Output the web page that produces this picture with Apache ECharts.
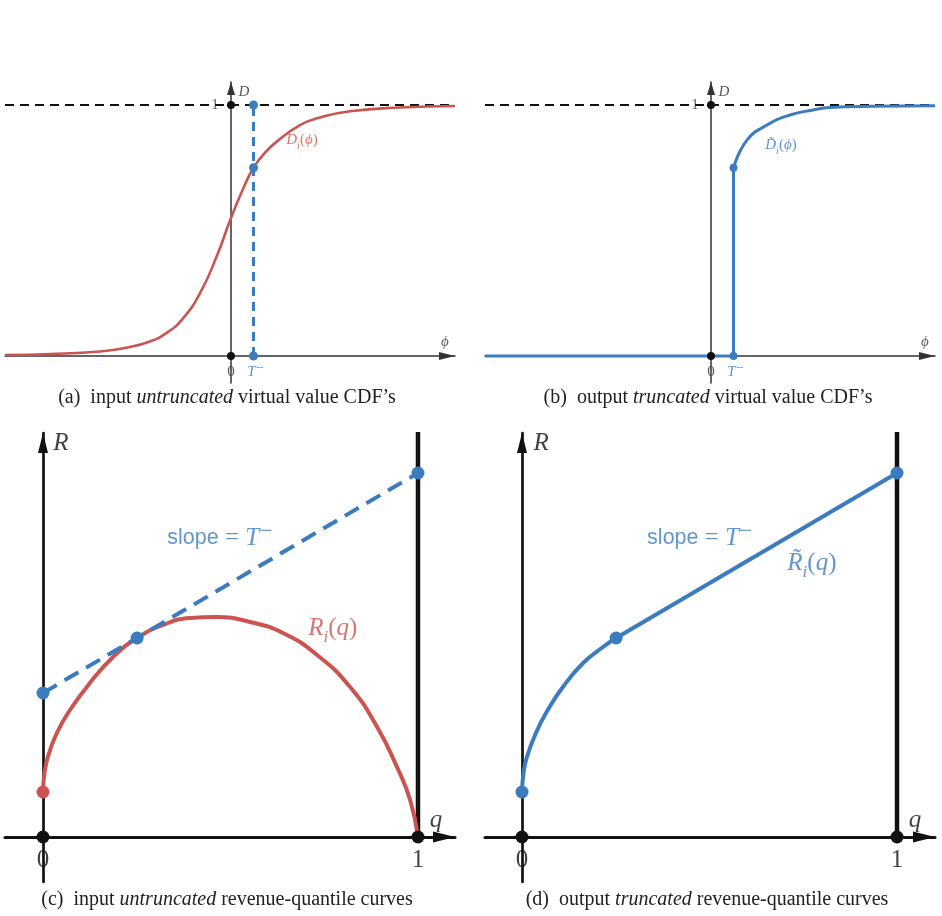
<!DOCTYPE html>
<html>
<head>
<meta charset="utf-8">
<script src="https://cdn.jsdelivr.net/npm/echarts@6/dist/echarts.min.js"></script>
<style>
  html, body { margin: 0; background: #fff; }
  #main { width: 942px; height: 916px; }
</style>
</head>
<body>
<div id="main"></div>
<script>
// (a) untruncated virtual value CDF D_i(phi)
const phiA = [-2.26, -1.8, -1.31, -1.06, -0.81, -0.64, -0.48, -0.31, -0.14, -0.01, 0.12, 0.225, 0.34, 0.46, 0.69, 0.89, 1.19, 1.69, 2.24]
const cdfA = [0.004, 0.008, 0.018, 0.032, 0.058, 0.093, 0.15, 0.25, 0.4, 0.54, 0.665, 0.75, 0.81, 0.855, 0.92, 0.95, 0.975, 0.99, 0.996]
// (b) truncated CDF, part above the jump at T-
const phiB = [0.225, 0.36, 0.56, 0.79, 1.02, 1.19, 1.6, 2.24]
const cdfB = [0.75, 0.86, 0.92, 0.96, 0.98, 0.99, 0.995, 0.997]
const T = 0.225
// (c) revenue-quantile curve R_i(q)
const qC = [0, 0.004, 0.013, 0.037, 0.072, 0.125, 0.187, 0.251, 0.32, 0.392, 0.464, 0.552, 0.64, 0.731, 0.819, 0.891, 0.944, 0.979, 1]
const revC = [0.45, 0.64, 0.8, 1.04, 1.27, 1.54, 1.8, 1.99, 2.12, 2.19, 2.2, 2.15, 2.04, 1.82, 1.5, 1.1, 0.7, 0.37, 0]
// line with slope T- : at q=0, tangency point, q=1
const lineQ = [0, 0.251, 1]
const lineRev = [1.44, 1.99, 3.64]
// (d) truncated curve, concave part up to the tangency point
const qD = [0, 0.004, 0.013, 0.037, 0.067, 0.109, 0.163, 0.216, 0.251]
const revD = [0.45, 0.64, 0.8, 1.04, 1.26, 1.5, 1.74, 1.9, 1.99]
// tick labels
const cdfTicks = ['0', '1']
const qTicks = ['0', '1']

const RED = '#cc5450'
const BLUE = '#3b7cbf'
const BLACK = '#111'
const SERIF = "'Liberation Serif', 'DejaVu Serif', serif"
const SANS = "'Liberation Sans', Arial, sans-serif"

const zip = (xs, ys) => xs.map((x, i) => [x, ys[i]])

function rich(size) {
  return {
    m: { fontFamily: SERIF, fontStyle: 'italic', fontSize: size, lineHeight: size * 1.45 },
    u: { fontFamily: SERIF, fontSize: size, lineHeight: size * 1.45 },
    s: { fontFamily: SERIF, fontStyle: 'italic', fontSize: size * 0.68, lineHeight: size * 0.7, verticalAlign: 'bottom' },
    p: { fontFamily: SERIF, fontSize: size * 0.95, lineHeight: size * 0.7, verticalAlign: 'top' },
    w: { fontFamily: SANS, fontSize: size * 0.86, lineHeight: size * 1.45 }
  }
}

function axis(i, min, max, arrow, width) {
  return {
    gridIndex: i, type: 'value', min: min, max: max,
    axisLine: {
      onZero: true, symbol: ['none', 'triangle'], symbolSize: arrow, symbolOffset: [0, -arrow[1] / 2],
      lineStyle: { color: i < 2 ? '#333' : BLACK, width: width }
    },
    axisTick: { show: false },
    splitLine: { show: false },
    axisLabel: { show: false }
  }
}

function line(i, data, color, width, extra) {
  return Object.assign({
    type: 'line', xAxisIndex: i, yAxisIndex: i, data: data, symbol: 'none',
    lineStyle: { color: color, width: width }, silent: true, animation: false, z: 3
  }, extra || {})
}

function dots(i, data, color, size) {
  return {
    type: 'scatter', xAxisIndex: i, yAxisIndex: i, data: data, symbolSize: size,
    itemStyle: { color: color, opacity: 1 }, z: 6, animation: false, silent: true
  }
}

function labels(i, items, size, color) {
  return {
    type: 'scatter', xAxisIndex: i, yAxisIndex: i, symbolSize: 0, z: 7, animation: false, silent: true,
    data: items.map(d => ({ value: d[0], label: { formatter: d[1], color: d[2] || color } })),
    label: { show: true, position: 'inside', align: 'center', verticalAlign: 'middle', fontFamily: SERIF, fontSize: size, rich: rich(size) }
  }
}

const dash1 = { color: BLACK, width: 2.2, type: [9, 6] }
const curve = { smooth: 0.5 }
const gridBase = { width: 450, outerBoundsMode: 'none', containLabel: false }

const chart = echarts.init(document.getElementById('main'))
chart.setOption({
  backgroundColor: '#fff',
  grid: [
    Object.assign({ left: 5, top: 82, height: 301 }, gridBase),
    Object.assign({ left: 485, top: 82, height: 301 }, gridBase),
    Object.assign({ left: 5, top: 433, height: 449 }, gridBase),
    Object.assign({ left: 485, top: 433, height: 449 }, gridBase)
  ],
  xAxis: [
    axis(0, -2.26, 2.24, [8, 16], 1.5),
    axis(1, -2.26, 2.24, [8, 16], 1.5),
    axis(2, -0.1013, 1.0987, [11, 22], 3),
    axis(3, -0.0987, 1.1013, [11, 22], 3)
  ],
  yAxis: [
    axis(0, -0.1076, 1.0916, [8, 13], 1.5),
    axis(1, -0.1076, 1.0916, [8, 13], 1.5),
    axis(2, -0.45, 4.04, [10, 20], 2.7),
    axis(3, -0.45, 4.04, [10, 20], 2.7)
  ],
  series: [
    // (a)
    line(0, [[-2.26, 1], [2.24, 1]], BLACK, 2.2, { lineStyle: dash1 }),
    line(0, zip(phiA, cdfA), RED, 2.6, curve),
    line(0, [[T, 0], [T, 1]], BLUE, 3, { lineStyle: { color: BLUE, width: 3, type: [9, 6] } }),
    dots(0, [[0, 1], [0, 0]], BLACK, 8),
    dots(0, [[T, 1], [T, cdfA[phiA.indexOf(T)]], [T, 0]], BLUE, 9),
    labels(0, [
      [[0.13, 1.052], '{m|D}', '#333'],
      [[2.14, 0.056], '{m|\u03d5}', '#333'],
      [[-0.16, 1], cdfTicks[1], '#333'],
      [[0, -0.064], cdfTicks[0], '#333'],
      [[T + 0.02, -0.064], '{m|T}{p|\u2212}', BLUE],
      [[0.71, 0.86], '{m|D}{s|i}{u|(}{m|\u03d5}{u|)}']
    ], 15, RED),
    // (b)
    line(1, [[-2.26, 1], [2.24, 1]], BLACK, 2.2, { lineStyle: dash1 }),
    line(1, [[-2.26, 0], [T, 0], [T, cdfB[0]]], BLUE, 3),
    line(1, zip(phiB, cdfB), BLUE, 3, curve),
    dots(1, [[0, 1], [0, 0]], BLACK, 8),
    dots(1, [[T, cdfB[0]], [T, 0]], BLUE, 8),
    labels(1, [
      [[0.13, 1.052], '{m|D}', '#333'],
      [[2.14, 0.056], '{m|\u03d5}', '#333'],
      [[-0.16, 1], cdfTicks[1], '#333'],
      [[0, -0.064], cdfTicks[0], '#333'],
      [[T + 0.02, -0.064], '{m|T}{p|\u2212}', BLUE],
      [[0.7, 0.84], '{m|D\u0303}{s|i}{u|(}{m|\u03d5}{u|)}']
    ], 15, BLUE),
    // (c)
    line(2, [[1, 0], [1, 4.05]], BLACK, 4.5, { clip: false }),
    line(2, zip(qC, revC), RED, 4, curve),
    line(2, [[lineQ[0], lineRev[0]], [lineQ[2], lineRev[2]]], BLUE, 4, { lineStyle: { color: BLUE, width: 4, type: [16, 9] } }),
    dots(2, [[0, 0], [1, 0]], BLACK, 13),
    dots(2, [[qC[0], revC[0]]], RED, 13),
    dots(2, zip(lineQ, lineRev), BLUE, 13),
    labels(2, [
      [[0.048, 3.94], '{m|R}', BLACK],
      [[1.048, 0.17], '{m|q}', BLACK],
      [[0, -0.23], qTicks[0], BLACK],
      [[1, -0.23], qTicks[1], BLACK],
      [[0.472, 2.99], '{w|slope} {u|=} {m|T}{p|\u2212}'],
      [[0.773, 2.09], '{m|R}{s|i}{u|(}{m|q}{u|)}', RED]
    ], 25, BLUE),
    // (d)
    line(3, [[1, 0], [1, 4.05]], BLACK, 4.5, { clip: false }),
    line(3, zip(qD, revD), BLUE, 4, curve),
    line(3, zip(lineQ.slice(1), lineRev.slice(1)), BLUE, 4),
    dots(3, [[0, 0], [1, 0]], BLACK, 13),
    dots(3, [[qD[0], revD[0]], [lineQ[1], lineRev[1]], [lineQ[2], lineRev[2]]], BLUE, 13),
    labels(3, [
      [[0.051, 3.94], '{m|R}', BLACK],
      [[1.048, 0.17], '{m|q}', BLACK],
      [[0, -0.23], qTicks[0], BLACK],
      [[1, -0.23], qTicks[1], BLACK],
      [[0.474, 2.99], '{w|slope} {u|=} {m|T}{p|\u2212}'],
      [[0.773, 2.74], '{m|R\u0303}{s|i}{u|(}{m|q}{u|)}']
    ], 25, BLUE)
  ],
  graphic: [
    ['(a)  input {i|untruncated} virtual value CDF\u2019s', 227, 398],
    ['(b)  output {i|truncated} virtual value CDF\u2019s', 708, 398],
    ['(c)  input {i|untruncated} revenue-quantile curves', 227, 900],
    ['(d)  output {i|truncated} revenue-quantile curves', 707, 900]
  ].map(c => ({
    type: 'text', x: c[1], y: c[2], silent: true,
    style: {
      text: c[0], align: 'center', verticalAlign: 'middle',
      fontFamily: SERIF, fontSize: 20, fill: '#222',
      rich: { i: { fontFamily: SERIF, fontStyle: 'italic', fontSize: 20, fill: '#222' } }
    }
  }))
})
</script>
</body>
</html>
